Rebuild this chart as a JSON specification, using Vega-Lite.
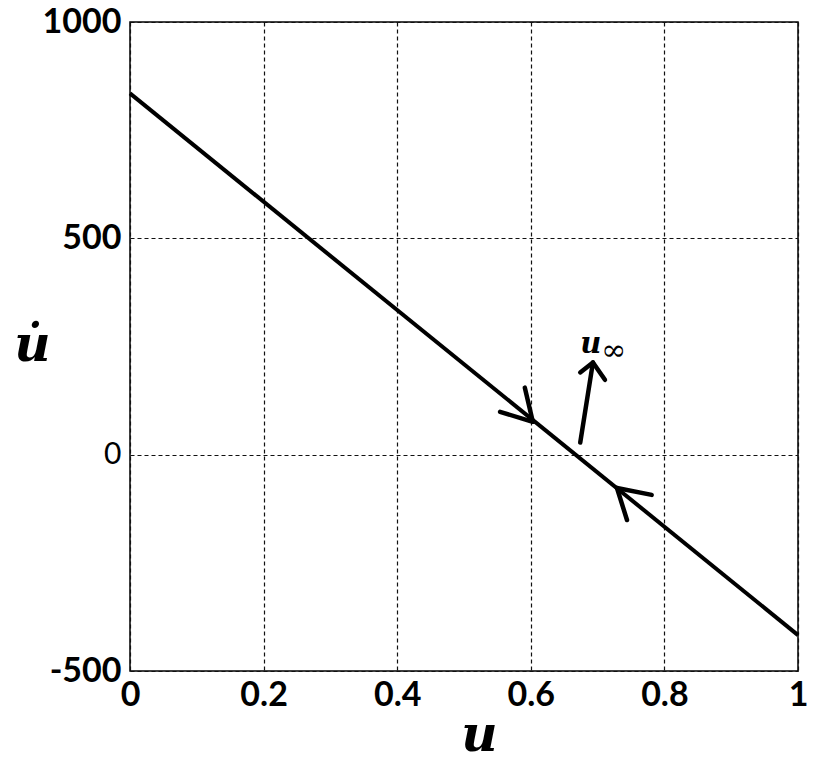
{
  "$schema": "https://vega.github.io/schema/vega-lite/v6.json",
  "width": 668,
  "height": 649,
  "autosize": {"type": "none"},
  "padding": {"left": 130, "top": 22, "right": 18, "bottom": 91},
  "background": "white",
  "config": {
    "view": {"stroke": "black", "strokeWidth": 1.5},
    "axis": {
      "domain": false,
      "ticks": false,
      "grid": true,
      "gridColor": "#111",
      "gridDash": [4, 3],
      "gridWidth": 1.2,
      "labelFont": "Lato",
      "labelFontSize": 34,
      "labelFontWeight": "bold",
      "labelColor": "black",
      "titleFont": "DejaVu Serif",
      "titleFontStyle": "italic",
      "titleFontWeight": "bold",
      "titleFontSize": 50,
      "titleColor": "black"
    }
  },
  "layer": [
    {
      "data": {"values": [{"u": 0, "v": 835}, {"u": 1, "v": -417}]},
      "mark": {"type": "line", "color": "black", "strokeWidth": 4},
      "encoding": {
        "x": {
          "field": "u", "type": "quantitative",
          "scale": {"domain": [0, 1], "nice": false, "zero": false},
          "axis": {
            "values": [0, 0.2, 0.4, 0.6, 0.8, 1],
            "format": "~g",
            "labelPadding": 7,
            "labelFlush": false,
            "title": "u",
            "titleX": 349,
            "titleY": 79,
            "titleBaseline": "alphabetic",
            "titleAlign": "center"
          }
        },
        "y": {
          "field": "v", "type": "quantitative",
          "scale": {"domain": [-500, 1000], "nice": false, "zero": false},
          "axis": {
            "values": [-500, 0, 500, 1000],
            "labelExpr": "datum.value < 0 ? '-' + abs(datum.value) : '' + datum.value",
            "labelPadding": 9,
            "labelFlush": false,
            "labelFontWeight": {"condition": {"test": "datum.value == 0", "value": "normal"}, "value": "bold"},
            "labelFontSize": {"condition": {"test": "datum.value == 0", "value": 30}, "value": 34},
            "title": "u̇",
            "titleAngle": 0,
            "titleX": -98,
            "titleY": 338,
            "titleBaseline": "alphabetic",
            "titleAlign": "center"
          }
        }
      }
    },
    {
      "data": {"values": [
        {"u": 0.591, "v": 155, "u2": 0.603, "v2": 76},
        {"u": 0.554, "v": 99, "u2": 0.603, "v2": 76},
        {"u": 0.781, "v": -93, "u2": 0.729, "v2": -77},
        {"u": 0.744, "v": -151, "u2": 0.729, "v2": -77},
        {"u": 0.674, "v": 28, "u2": 0.693, "v2": 213},
        {"u": 0.674, "v": 190, "u2": 0.693, "v2": 213},
        {"u": 0.711, "v": 173, "u2": 0.693, "v2": 213}
      ]},
      "mark": {"type": "rule", "color": "black", "strokeWidth": 4.5, "strokeCap": "round"},
      "encoding": {
        "x": {"field": "u", "type": "quantitative"},
        "y": {"field": "v", "type": "quantitative"},
        "x2": {"field": "u2"},
        "y2": {"field": "v2"}
      }
    },
    {
      "data": {"values": [{"u": 0.69, "v": 236, "label": "u"}]},
      "mark": {"type": "text", "font": "DejaVu Serif", "fontStyle": "italic", "fontWeight": "bold", "fontSize": 29, "baseline": "alphabetic", "align": "center", "color": "black"},
      "encoding": {
        "x": {"field": "u", "type": "quantitative"},
        "y": {"field": "v", "type": "quantitative"},
        "text": {"field": "label"}
      }
    },
    {
      "data": {"values": [{"u": 0.724, "v": 240, "label": "∞"}]},
      "mark": {"type": "text", "font": "DejaVu Serif", "fontSize": 30, "baseline": "middle", "align": "center", "color": "black"},
      "encoding": {
        "x": {"field": "u", "type": "quantitative"},
        "y": {"field": "v", "type": "quantitative"},
        "text": {"field": "label"}
      }
    }
  ]
}
